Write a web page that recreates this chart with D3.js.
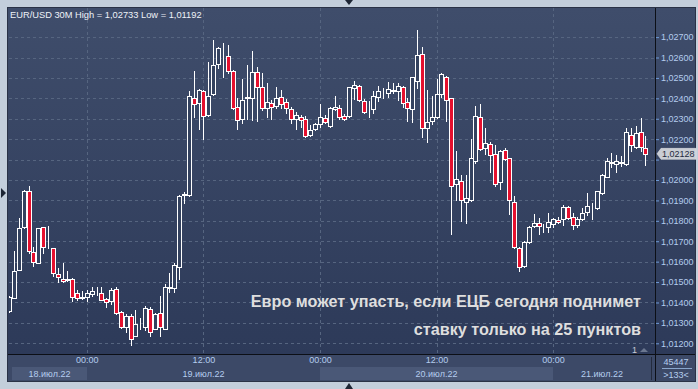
<!DOCTYPE html>
<html>
<head>
<meta charset="utf-8">
<script src="https://cdn.jsdelivr.net/npm/d3@7"></script>
<style>
  html, body { margin: 0; padding: 0; background: #c3cedb; }
  svg { display: block; font-family: "Liberation Sans", Arial, sans-serif; }
</style>
</head>
<body>
<svg id="chart" width="698" height="389"></svg>
<script>
// EUR/USD, 30-minute candles
const symbol = "EUR/USD 30M";
const firstBar = new Date(2022, 6, 18, 16, 0);
const barMinutes = 30;

const opens = [
  1.01358,1.01423,1.01559,1.01768,1.01945,1.01646,1.01595,1.01768,1.01673,1.01665,
  1.01538,1.01513,1.01513,1.01513,1.01445,1.01425,1.01428,1.01440,1.01449,1.01445,
  1.01415,1.01407,1.01466,1.01355,1.01281,1.01335,1.01237,1.01293,1.01281,1.01366,
  1.01271,1.01347,1.01271,1.01473,1.01471,1.01575,1.01928,1.01925,1.02400,1.02376,
  1.02438,1.02317,1.02420,1.02567,1.02614,1.02608,1.02536,1.02356,1.02297,1.02400,
  1.02403,1.02528,1.02457,1.02354,1.02376,1.02364,1.02405,1.02381,1.02348,1.02297,
  1.02307,1.02297,1.02222,1.02248,1.02274,1.02302,1.02266,1.02346,1.02351,1.02314,
  1.02315,1.02449,1.02461,1.02387,1.02340,1.02346,1.02405,1.02438,1.02428,1.02438,
  1.02438,1.02454,1.02381,1.02346,1.02487,1.02616,1.02257,1.02288,1.02307,1.02420,
  1.02506,1.02400,1.01979,1.01997,1.01890,1.01902,1.02093,1.02307,1.02155,1.02175,
  1.02126,1.01989,1.02147,1.02106,1.01894,1.01665,1.01579,1.01695,1.01775,1.01791,
  1.01766,1.01768,1.01784,1.01804,1.01807,1.01866,1.01817,1.01780,1.01807,1.01845,
  1.01869,1.01864,1.01935,1.02016,1.02085,1.02077,1.02085,1.02077,1.02221,1.02160,
  1.02234,1.02155
];
const highs = [
  1.01432,1.01652,1.01812,1.01951,1.01971,1.01670,1.01765,1.01770,1.01775,1.01669,
  1.01570,1.01595,1.01554,1.01520,1.01461,1.01458,1.01461,1.01477,1.01474,1.01474,
  1.01423,1.01469,1.01477,1.01360,1.01343,1.01343,1.01363,1.01324,1.01383,1.01379,
  1.01347,1.01432,1.01490,1.01544,1.01593,1.01927,1.01943,1.02436,1.02534,1.02444,
  1.02441,1.02580,1.02686,1.02652,1.02673,1.02662,1.02539,1.02402,1.02493,1.02564,
  1.02632,1.02554,1.02523,1.02474,1.02392,1.02454,1.02441,1.02397,1.02359,1.02335,
  1.02319,1.02314,1.02270,1.02281,1.02372,1.02319,1.02358,1.02412,1.02368,1.02323,
  1.02457,1.02485,1.02466,1.02395,1.02387,1.02438,1.02461,1.02449,1.02482,1.02474,
  1.02477,1.02461,1.02400,1.02505,1.02733,1.02650,1.02441,1.02412,1.02493,1.02526,
  1.02510,1.02402,1.02142,1.02025,1.02025,1.02201,1.02363,1.02372,1.02255,1.02188,
  1.02172,1.02147,1.02155,1.02108,1.01922,1.01670,1.01699,1.01775,1.01833,1.01812,
  1.01784,1.01837,1.01814,1.01817,1.01878,1.01874,1.01840,1.01820,1.01861,1.01935,
  1.01886,1.01948,1.02028,1.02109,1.02134,1.02123,1.02118,1.02256,1.02253,1.02265,
  1.02302,1.02216
];
const lows = [
  1.01353,1.01420,1.01557,1.01765,1.01641,1.01580,1.01591,1.01641,1.01669,1.01530,
  1.01502,1.01502,1.01505,1.01409,1.01412,1.01419,1.01409,1.01432,1.01437,1.01412,
  1.01379,1.01392,1.01343,1.01277,1.01257,1.01192,1.01236,1.01268,1.01265,1.01237,
  1.01268,1.01237,1.01268,1.01451,1.01453,1.01513,1.01889,1.01922,1.02310,1.02251,
  1.02199,1.02314,1.02417,1.02549,1.02503,1.02523,1.02346,1.02248,1.02281,1.02299,
  1.02294,1.02291,1.02343,1.02307,1.02297,1.02353,1.02353,1.02327,1.02281,1.02250,
  1.02261,1.02213,1.02216,1.02245,1.02261,1.02281,1.02262,1.02343,1.02299,1.02294,
  1.02311,1.02395,1.02389,1.02328,1.02310,1.02330,1.02389,1.02400,1.02408,1.02425,
  1.02392,1.02356,1.02291,1.02286,1.02452,1.02212,1.02188,1.02274,1.02304,1.02408,
  1.02291,1.01733,1.01902,1.01801,1.01791,1.01897,1.02085,1.02147,1.02127,1.02041,
  1.01971,1.01954,1.02098,1.01832,1.01669,1.01556,1.01574,1.01691,1.01770,1.01735,
  1.01747,1.01744,1.01768,1.01789,1.01780,1.01809,1.01760,1.01768,1.01804,1.01828,
  1.01809,1.01858,1.01931,1.02015,1.02065,1.02041,1.02069,1.02074,1.02144,1.02157,
  1.02144,1.02074
];
const closes = [
  1.01427,1.01554,1.01763,1.01945,1.01652,1.01600,1.01763,1.01670,1.01671,1.01543,
  1.01523,1.01505,1.01508,1.01428,1.01420,1.01424,1.01445,1.01456,1.01451,1.01412,
  1.01401,1.01461,1.01350,1.01280,1.01334,1.01219,1.01293,1.01294,1.01371,1.01257,
  1.01343,1.01278,1.01478,1.01474,1.01584,1.01922,1.01929,1.02412,1.02372,1.02441,
  1.02314,1.02412,1.02564,1.02645,1.02613,1.02533,1.02351,1.02294,1.02392,1.02408,
  1.02531,1.02454,1.02351,1.02381,1.02359,1.02400,1.02372,1.02351,1.02297,1.02319,
  1.02294,1.02216,1.02245,1.02273,1.02307,1.02283,1.02351,1.02356,1.02310,1.02300,
  1.02454,1.02464,1.02392,1.02332,1.02339,1.02412,1.02436,1.02437,1.02444,1.02439,
  1.02461,1.02376,1.02351,1.02503,1.02613,1.02253,1.02282,1.02310,1.02421,1.02519,
  1.02392,1.01969,1.02003,1.01901,1.01910,1.02106,1.02312,1.02150,1.02180,1.02123,
  1.01979,1.02142,1.02101,1.01902,1.01673,1.01572,1.01698,1.01771,1.01791,1.01775,
  1.01767,1.01796,1.01807,1.01792,1.01869,1.01812,1.01780,1.01807,1.01840,1.01873,
  1.01870,1.01945,1.02025,1.02093,1.02086,1.02093,1.02086,1.02234,1.02170,1.02229,
  1.02160,1.02128
];

const priceTicks = [1.012,1.013,1.014,1.015,1.016,1.017,1.018,1.019,1.020,1.021,1.022,1.023,1.024,1.025,1.026,1.027];
const dayLabels = ["18.июл.22", "19.июл.22", "20.июл.22", "21.июл.22"];
const headline = ["Евро может упасть, если ЕЦБ сегодня поднимет", "ставку только на 25 пунктов"];
const barsInfo = ["45447", ">133<"];

const fmt = d3.formatLocale({decimal: ",", thousands: " ", grouping: [3], currency: ["", ""]}).format(".5f");

const svg = d3.select("#chart");
const frame = {left: 8, top: 8, right: 695, bottom: 381};
const plot = {left: 8, top: 8, right: 655, bottom: 354};

const times = opens.map((_, i) => d3.timeMinute.offset(firstBar, barMinutes * i));
const x = d3.scaleTime().domain([times[0], times[times.length - 1]]).range([9.1, 645.4]);
const y = d3.scaleLinear().domain([1.012, 1.027]).range([343.3, 37.1]);

const defs = svg.append("defs");
const grad = defs.append("linearGradient").attr("id", "bg").attr("x1", 0).attr("x2", 0).attr("y1", 0).attr("y2", 1);
grad.append("stop").attr("offset", "0%").attr("stop-color", "#3f4d6b");
grad.append("stop").attr("offset", "100%").attr("stop-color", "#2d3a59");
defs.append("clipPath").attr("id", "plotClip").append("rect")
  .attr("x", plot.left + 1).attr("y", plot.top).attr("width", plot.right - plot.left - 1).attr("height", plot.bottom - plot.top);

// outer frame
svg.append("rect").attr("width", 698).attr("height", 389).attr("fill", "#c3cedb");
svg.append("rect").attr("x", frame.left).attr("y", frame.top)
  .attr("width", frame.right - frame.left).attr("height", plot.bottom - frame.top).attr("fill", "url(#bg)");
svg.append("rect").attr("x", frame.left).attr("y", plot.bottom)
  .attr("width", frame.right - frame.left).attr("height", frame.bottom - plot.bottom).attr("fill", "#3c4967");

// scroll markers on the frame
svg.append("path").attr("d", "M345,0 L353,0 L349,5 Z").attr("fill", "#1d2534");
svg.append("path").attr("d", "M345,389 L353,389 L349,383 Z").attr("fill", "#1d2534");
svg.append("path").attr("d", "M1,188 L6,193 L1,198 Z").attr("fill", "#1d2534");

// day bands under the time axis
const dayStarts = d3.timeDay.range(d3.timeDay.ceil(times[0]), times[times.length - 1]);
const bandEdges = [12].concat(dayStarts.map(d => Math.round(x(d)))).concat([651]);
svg.append("g").selectAll("rect").data(dayLabels).join("rect")
  .attr("x", (d, i) => bandEdges[i]).attr("y", 367)
  .attr("width", (d, i) => bandEdges[i + 1] - bandEdges[i]).attr("height", 13)
  .attr("fill", (d, i) => i % 2 === 0 ? "#4a5877" : "#3c4967");
svg.append("g").selectAll("text").data(dayLabels).join("text")
  .attr("x", (d, i) => (bandEdges[i] + bandEdges[i + 1]) / 2).attr("y", 377)
  .attr("text-anchor", "middle").attr("font-size", 9).attr("fill", "#b4cdee").text(d => d);

// grid
const grid = svg.append("g").attr("stroke", "#566580").attr("stroke-dasharray", "3,3").attr("shape-rendering", "crispEdges");
grid.selectAll(".h").data(priceTicks).join("line")
  .attr("x1", plot.left + 1).attr("x2", plot.right)
  .attr("y1", d => Math.round(y(d)) + 0.5).attr("y2", d => Math.round(y(d)) + 0.5);
const timeTicks = x.ticks(d3.timeHour.every(12));
grid.selectAll(".v").data(timeTicks).join("line")
  .attr("y1", plot.top).attr("y2", plot.bottom)
  .attr("x1", d => Math.round(x(d)) + 0.5).attr("x2", d => Math.round(x(d)) + 0.5);

// time axis
const xAxis = d3.axisBottom(x).tickValues(timeTicks).tickSize(0).tickPadding(0).tickFormat(d3.timeFormat("%H:%M"));
const gx = svg.append("g").attr("transform", `translate(0,${plot.bottom + 3})`).call(xAxis);
gx.select(".domain").remove();
gx.selectAll("text").attr("font-size", 9).attr("fill", "#b4cdee").attr("font-family", "Liberation Sans, Arial, sans-serif").attr("dy", "0.71em");

// price axis; the tick hidden under the last-price marker is skipped
const last = closes[closes.length - 1];
const yAxis = d3.axisRight(y).tickValues(priceTicks).tickSize(3).tickPadding(2).tickFormat(fmt);
const gy = svg.append("g").attr("transform", `translate(${plot.right + 1},0)`).call(yAxis);
gy.select(".domain").remove();
gy.selectAll("line").attr("stroke", "#6f9ad6");
gy.selectAll("text").attr("font-size", 9).attr("fill", "#b4cdee").attr("font-family", "Liberation Sans, Arial, sans-serif")
  .attr("display", d => Math.abs(y(d) - y(last)) < 10 ? "none" : null);

// candles
const candles = svg.append("g").attr("clip-path", "url(#plotClip)").attr("shape-rendering", "crispEdges");
const bars = candles.selectAll("g").data(opens.map((o, i) => ({o, h: highs[i], l: lows[i], c: closes[i], t: times[i]}))).join("g");
bars.append("line")
  .attr("x1", d => Math.round(x(d.t)) + 0.5).attr("x2", d => Math.round(x(d.t)) + 0.5)
  .attr("y1", d => Math.round(y(d.h))).attr("y2", d => Math.round(y(d.l)) + 1)
  .attr("stroke", "#ffffff");
bars.append("rect")
  .attr("x", d => Math.round(x(d.t)) - 1.5)
  .attr("y", d => Math.round(y(Math.max(d.o, d.c))) + 0.5)
  .attr("width", 4)
  .attr("height", d => Math.max(0, Math.round(y(Math.min(d.o, d.c))) - Math.round(y(Math.max(d.o, d.c)))))
  .attr("fill", d => d.c < d.o ? "#e5102e" : "#34425f")
  .attr("stroke", "#ffffff");

// axis separators
svg.append("line").attr("x1", plot.right + 0.5).attr("x2", plot.right + 0.5).attr("y1", frame.top).attr("y2", frame.bottom).attr("stroke", "#0c0f16");
svg.append("line").attr("x1", frame.left).attr("x2", frame.right).attr("y1", plot.bottom + 0.5).attr("y2", plot.bottom + 0.5).attr("stroke", "#0c0f16");
svg.append("line").attr("x1", 651.5).attr("x2", 651.5).attr("y1", 357).attr("y2", 380).attr("stroke", "#232b3d");
svg.append("rect").attr("x", frame.left - 0.5).attr("y", frame.top - 0.5)
  .attr("width", frame.right - frame.left + 1).attr("height", frame.bottom - frame.top + 1)
  .attr("fill", "none").attr("stroke", "#2a3246");

// bars counter box
svg.append("text").attr("x", 676).attr("y", 365).attr("text-anchor", "middle").attr("font-size", 9).attr("fill", "#b4cdee").text(barsInfo[0]);
svg.append("line").attr("x1", 662).attr("x2", 692).attr("y1", 368.5).attr("y2", 368.5).attr("stroke", "#8aa6cc");
svg.append("text").attr("x", 676).attr("y", 378).attr("text-anchor", "middle").attr("font-size", 9).attr("fill", "#b4cdee").text(barsInfo[1]);

// last price marker
const ly = y(last);
svg.append("path")
  .attr("d", `M657,${ly} L661,${ly - 5.5} L696,${ly - 5.5} L696,${ly + 5.5} L661,${ly + 5.5} Z`)
  .attr("fill", "#c9cdd4").attr("stroke", "#e6e8ec").attr("stroke-width", 0.5);
svg.append("text").attr("x", 662).attr("y", ly + 3.5).attr("font-size", 9).attr("fill", "#1e2a3e").text(fmt(last));

// header
const hi = d3.max(highs), lo = d3.min(lows);
svg.append("text").attr("x", 10).attr("y", 18).attr("font-size", 9.3).attr("fill", "#eef2f8")
  .text(`${symbol} High = ${fmt(hi)} Low = ${fmt(lo)}`);

// headline overlay
svg.append("g").selectAll("text").data(headline).join("text")
  .attr("x", 641).attr("y", (d, i) => 307 + i * 28)
  .attr("text-anchor", "end").attr("font-size", 16.2).attr("font-weight", "bold")
  .attr("fill", "#dedede").text(d => d);

// window marker near the bottom
svg.append("text").attr("x", 632).attr("y", 353).attr("font-size", 9).attr("fill", "#c8ccd4").text("1");
svg.append("path").attr("d", "M640,352 L644,348 L648,352 Z").attr("fill", "#6b7790");
</script>
</body>
</html>
